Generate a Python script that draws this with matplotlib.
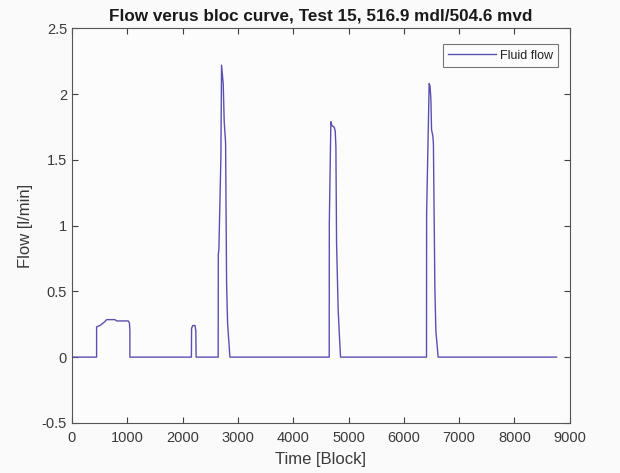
import matplotlib
matplotlib.use("Agg")
import matplotlib.pyplot as plt

plt.rcParams['font.family'] = ['Liberation Sans', 'DejaVu Sans']

# Flow samples (block index, flow in l/min) at the curve's breakpoints
block = [0, 446, 446, 506, 596, 627, 777, 808, 1018, 1040, 1048, 1048,
         2160, 2163, 2185, 2225, 2240, 2245,
         2644, 2646, 2657, 2693, 2705, 2735, 2753, 2778, 2796, 2814, 2856,
         4651, 4653, 4681, 4700, 4740, 4760, 4772, 4784, 4813, 4831, 4856,
         6410, 6412, 6458, 6475, 6490, 6501, 6525, 6535, 6561, 6579, 6600, 6620,
         8760]
flow = [0, 0, 0.23, 0.24, 0.27, 0.285, 0.285, 0.275, 0.275, 0.26, 0.2, 0,
        0, 0.22, 0.24, 0.24, 0.2, 0,
        0, 0.78, 0.82, 1.52, 2.22, 2.08, 1.79, 1.63, 0.56, 0.26, 0,
        0, 1.02, 1.79, 1.76, 1.75, 1.72, 1.6, 0.87, 0.36, 0.2, 0,
        0, 1.09, 2.08, 2.06, 1.95, 1.73, 1.68, 1.62, 0.53, 0.2, 0.1, 0,
        0]

x_ticks = [0, 1000, 2000, 3000, 4000, 5000, 6000, 7000, 8000, 9000]
y_ticks = [-0.5, 0, 0.5, 1, 1.5, 2, 2.5]

axis_grey = '#404040'
text_grey = '#3a3a3a'

fig = plt.figure(figsize=(6.2, 4.73), dpi=100, facecolor='#fafafa')
ax = fig.add_axes([0.116, 0.106, 0.803, 0.834], facecolor='#fcfcfc')

ax.plot(block, flow, color='#5a50b0', linewidth=1.0, label='Fluid flow')

ax.set_xlim(0, 9000)
ax.set_ylim(-0.5, 2.5)
ax.set_xticks(x_ticks)
ax.set_yticks(y_ticks)
ax.set_yticklabels(['-0.5', '0', '0.5', '1', '1.5', '2', '2.5'])

ax.tick_params(direction='in', top=True, right=True, length=4, width=0.8,
               colors=axis_grey, labelsize=10.5, labelcolor=text_grey)
ax.tick_params(axis='x', pad=6)
for sp in ax.spines.values():
    sp.set_color('#555555')
    sp.set_linewidth(0.8)

ax.set_xlabel('Time [Block]', fontsize=12, color=text_grey, labelpad=5)
ax.set_ylabel('Flow [l/min]', fontsize=12, color=text_grey, labelpad=6)
ax.set_title('Flow verus bloc curve, Test 15, 516.9 mdl/504.6 mvd',
             fontsize=12.3, fontweight='bold', color='#1a1a1a', pad=6)

leg = ax.legend(loc='upper right', fontsize=9, frameon=True, fancybox=False,
                handlelength=3.8, borderpad=0.45, handletextpad=0.3,
                bbox_to_anchor=(0.977, 0.96), borderaxespad=0)
leg.get_frame().set_edgecolor('#555555')
leg.get_frame().set_linewidth(0.8)
leg.get_frame().set_facecolor('#fcfcfc')
for t in leg.get_texts():
    t.set_color('#222222')

fig.savefig('out.png', dpi=100, facecolor=fig.get_facecolor())
